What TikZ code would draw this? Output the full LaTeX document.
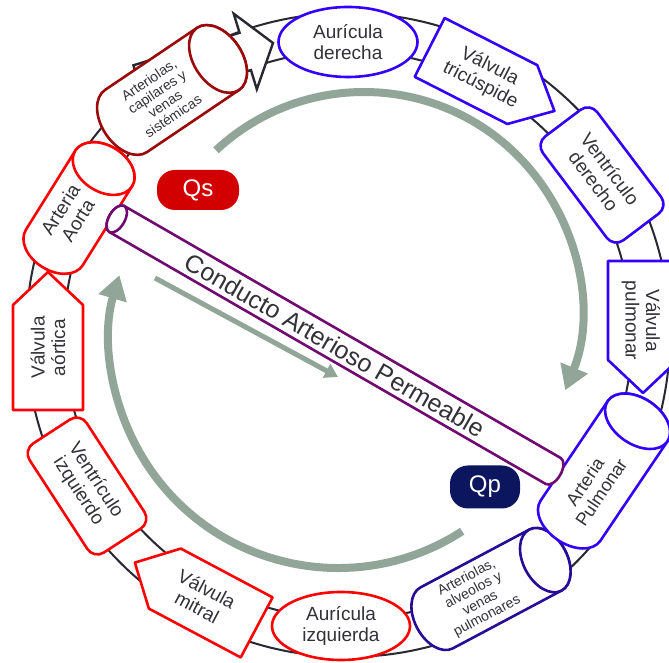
\documentclass[tikz,border=0pt]{standalone}
\usepackage{fontspec}
\setmainfont{Liberation Sans}
\usetikzlibrary{shapes.geometric,arrows.meta}
\definecolor{cblue}{RGB}{51,0,255}
\definecolor{cdblue}{RGB}{38,12,150}
\definecolor{cred}{RGB}{255,0,0}
\definecolor{cdred}{RGB}{155,10,10}
\definecolor{cpurple}{RGB}{112,10,112}
\definecolor{cqs}{RGB}{210,0,0}
\definecolor{cqp}{RGB}{12,22,95}
\definecolor{cgray}{RGB}{145,165,152}
\definecolor{cring}{RGB}{40,40,50}
\definecolor{ctext}{RGB}{50,50,55}
\tikzset{
  outl/.style={line width=2.6pt, fill=white, line join=round},
  ring/.style={draw=cring, line width=2pt},
  lbl/.style={text=ctext, align=center, inner sep=0pt, font=\fontsize{19}{20.5}\selectfont},
  smalllbl/.style={text=ctext, align=center, inner sep=0pt, font=\fontsize{14}{14.5}\selectfont},
  oval/.style={ellipse, draw, line width=2.6pt, fill=white, inner sep=0pt, text=ctext, align=center, font=\fontsize{19}{20.5}\selectfont},
  rbox/.style={rectangle, rounded corners=12pt, draw, line width=2.6pt, fill=white, inner sep=0pt, text=ctext, align=center, font=\fontsize{19}{20.5}\selectfont},
  flow/.style={draw=cgray, line width=8pt, -{Triangle[width=28pt,length=24pt]}},
  flowthin/.style={draw=cgray, line width=5pt, -{Triangle[width=15pt,length=13pt]}},
  badge/.style={rounded corners=18pt, text=white, inner sep=0pt, font=\fontsize{24}{24}\selectfont},
}
% pentagon (home plate): x, y, angle, body length, width, tip, colour
\newcommand{\pentshape}[7]{%
  \begin{scope}[shift={(#1,#2)},rotate=#3]
    \filldraw[outl,draw=#7] ({-#4/2},{-#5/2}) -- ({#4/2},{-#5/2}) -- ({#4/2+#6},0) -- ({#4/2},{#5/2}) -- ({-#4/2},{#5/2}) -- cycle;
  \end{scope}}
% cylinder: x, y, angle, length, diameter, cap half-axis, colour
\newcommand{\cylshape}[7]{%
  \begin{scope}[shift={(#1,#2)},rotate=#3]
    \filldraw[outl,draw=#7] ({#4/2-#6},{#5/2}) -- ({-#4/2+#6},{#5/2})
      arc[start angle=90,end angle=270,x radius=#6,y radius={#5/2}]
      -- ({#4/2-#6},{-#5/2})
      arc[start angle=-90,end angle=90,x radius=#6,y radius={#5/2}] -- cycle;
    \draw[outl,draw=#7] ({#4/2-#6},0) ellipse[x radius=#6,y radius={#5/2}];
  \end{scope}}
\begin{document}
\begin{tikzpicture}[x=1pt,y=1pt]
\useasboundingbox (0,0) rectangle (669,663);
\clip (0,0) rectangle (669,663);
\fill[white] (0,0) rectangle (669,663);

% ring
\coordinate (ringc) at (348,328);
\draw[ring] (ringc) circle[radius=322];
\draw[ring] (ringc) circle[radius=284];

% open black arrow at top
\begin{scope}[shift={(273,620)},rotate=17]
  \filldraw[fill=white,draw=cring,line width=2.4pt,line join=miter]
    (0,0) -- (-29,39.5) -- (-29,19.5) -- (-140,19.5) -- (-140,-19.5) -- (-29,-19.5) -- (-29,-39.5) -- cycle;
\end{scope}

% grey flow arrows
\coordinate (topc) at (364,354);
\coordinate (botc) at (338,323);
\draw[flow] (topc) ++(133:217) arc[start angle=133,end angle=-22,radius=217];
\draw[flow] (botc) ++(-57:228) arc[start angle=-57,end angle=-196.5,radius=228];
\coordinate (dstart) at (155,385);
\coordinate (dend) at (338,286);
\draw[flowthin] (dstart) -- (dend);

% systemic side
\cylshape{172}{573}{34}{159}{75}{24}{cdred}
\node[smalllbl,rotate=34] (capil) at (161,565) {Arteriolas,\\capilares y\\venas\\sistémicas};
\cylshape{79}{455}{58}{139}{67}{23}{cred}
\node[lbl,rotate=58] (aorta) at (69,448) {Arteria\\Aorta};
\pentshape{48}{305.5}{90}{105}{70}{33}{cred}
\node[lbl,rotate=90] (vao) at (48,315.5) {Válvula\\aórtica};
\node[rbox,draw=cred,minimum width=130pt,minimum height=68pt,rotate=-57] (vi) at (87,177) {Ventrículo\\izquierdo};
\pentshape{210.75}{60}{152}{104}{68}{34}{cred}
\node[lbl,rotate=-28] (vmi) at (202,65) {Válvula\\mitral};
\node[oval,draw=cred,minimum width=138pt,minimum height=68pt] (ai) at (341,37) {Aurícula\\izquierda};

% pulmonary side
\cylshape{491}{74}{28}{167}{69}{22}{cdblue}
\node[smalllbl,rotate=28] (alv) at (477,66) {Arteriolas,\\alveolos y\\venas\\pulmonares};
\cylshape{604}{192}{56}{166}{72}{23}{cblue}
\node[lbl,rotate=56,font=\fontsize{18}{19.5}\selectfont] (apul) at (593,176) {Arteria\\Pulmonar};
\pentshape{643}{352.5}{-90}{99}{70}{33}{cblue}
\node[lbl,rotate=-90] (vpu) at (641,342.5) {Válvula\\pulmonar};
\node[rbox,draw=cblue,minimum width=130pt,minimum height=68pt,rotate=-53] (vd) at (602,488) {Ventrículo\\derecho};
\pentshape{476}{592}{-27}{104}{66}{36}{cblue}
\node[lbl,rotate=-27] (vtr) at (485,587) {Válvula\\tricúspide};
\node[oval,draw=cblue,minimum width=139pt,minimum height=70pt] (ad) at (348,621) {Aurícula\\derecha};

% ductus
\cylshape{335}{318}{150}{520}{30}{8}{cpurple}
\node[lbl,rotate=-30,font=\fontsize{25}{25}\selectfont] (cap) at (335,318) {Conducto Arterioso Permeable};

% flow labels
\node[badge,fill=cqs,minimum width=82pt,minimum height=40pt] (qs) at (198,473) {Qs};
\node[badge,fill=cqp,minimum width=70pt,minimum height=43pt] (qp) at (485,176) {Qp};
\end{tikzpicture}
\end{document}
